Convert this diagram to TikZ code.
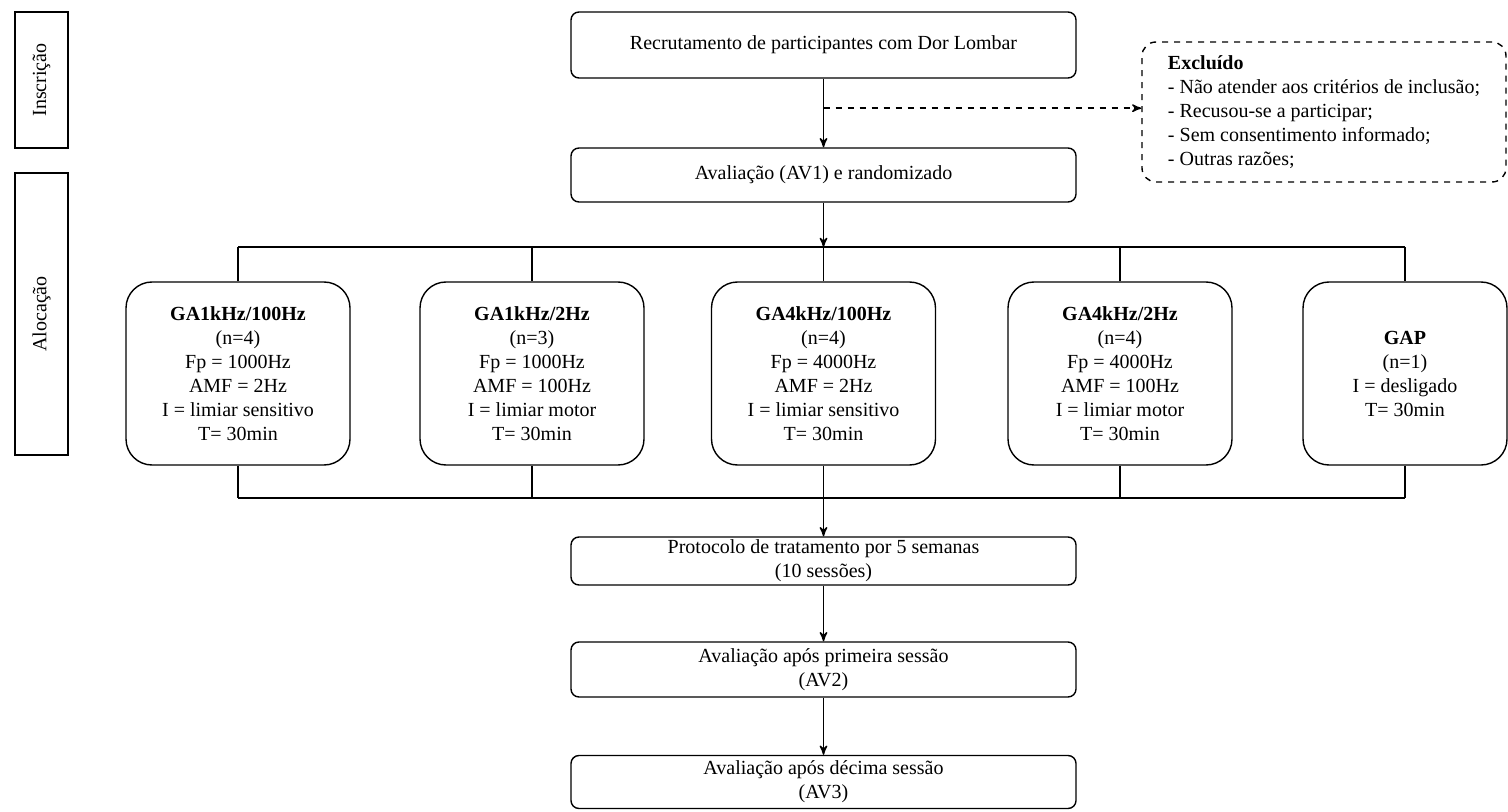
\documentclass[tikz,border=0pt]{standalone}
\usepackage{fontspec}
\setmainfont{Liberation Serif}
\usetikzlibrary{positioning,calc,arrows}

\begin{document}
\begin{tikzpicture}[x=0.5pt,y=-0.5pt,>=stealth',line width=0.7pt,
main node/.style={draw,rounded corners=4pt,minimum width=252.5pt,align=center,inner ysep=1pt},
group node/.style={draw,rounded corners=13pt,minimum width=112pt,minimum height=91.5pt,align=center,inner sep=2pt},
side node/.style={draw,rotate=90,minimum height=26.5pt,inner sep=0pt},
excl node/.style={draw,dashed,rounded corners=7pt,align=left,minimum width=182pt,minimum height=70pt}]
\useasboundingbox (0,0) rectangle (1508,812);
% side labels
  \node[side node,minimum width=68pt] (ins) at (41.5,80) {Inscrição};
  \node[side node,minimum width=141pt] (aloc) at (41.5,314) {Alocação};
% main column
  \node[main node,minimum height=33pt] (recr) at (823.5,45) {Recrutamento de participantes com Dor Lombar};
  \node[main node,minimum height=27pt] (av1) at (823.5,175) {Avaliação (AV1) e randomizado};
  \node[excl node] (excl) at (1324,112) {\textbf{Excluído}\\- Não atender aos critérios de inclusão;\\- Recusou-se a participar;\\- Sem consentimento informado;\\- Outras razões;};
% groups
  \node[group node] (g1) at (238,373.5) {\textbf{GA1kHz/100Hz}\\(n=4)\\Fp = 1000Hz\\AMF = 2Hz\\I = limiar sensitivo\\T= 30min};
  \node[group node] (g2) at (532,373.5) {\textbf{GA1kHz/2Hz}\\(n=3)\\Fp = 1000Hz\\AMF = 100Hz\\I = limiar motor\\T= 30min};
  \node[group node] (g3) at (823.5,373.5) {\textbf{GA4kHz/100Hz}\\(n=4)\\Fp = 4000Hz\\AMF = 2Hz\\I = limiar sensitivo\\T= 30min};
  \node[group node] (g4) at (1120,373.5) {\textbf{GA4kHz/2Hz}\\(n=4)\\Fp = 4000Hz\\AMF = 100Hz\\I = limiar motor\\T= 30min};
  \node[group node,minimum width=102pt] (g5) at (1405,373.5) {\textbf{GAP}\\(n=1)\\I = desligado\\T= 30min};
% follow-up
  \node[main node,minimum height=24pt] (prot) at (823.5,561) {Protocolo de tratamento por 5 semanas\\(10 sessões)};
  \node[main node,minimum height=27.5pt] (av2) at (823.5,669.5) {Avaliação após primeira sessão\\(AV2)};
  \node[main node,minimum height=26.5pt] (av3) at (823.5,782) {Avaliação após décima sessão\\(AV3)};
  \coordinate (branch) at ($(recr.south)!0.43!(av1.north)$);
  \coordinate (split) at (823.5,247);
  \coordinate (merge) at (823.5,498);
%edges
  \draw[->] (recr) -- (av1);
  \draw[->,dashed] (branch) -- (branch -| excl.west);
  \draw[->] (av1) -- (split);
  \draw (g1.north |- split) -- (g5.north |- split);
  \draw (g1.south |- merge) -- (g5.south |- merge);
  \foreach \g in {g1,g2,g3,g4,g5} {
    \draw (\g.north |- split) -- (\g.north);
    \draw (\g.south) -- (\g.south |- merge);
  }
  \draw[->] (merge) -- (prot);
  \draw[->] (prot) -- (av2);
  \draw[->] (av2) -- (av3);
\end{tikzpicture}
\end{document}
